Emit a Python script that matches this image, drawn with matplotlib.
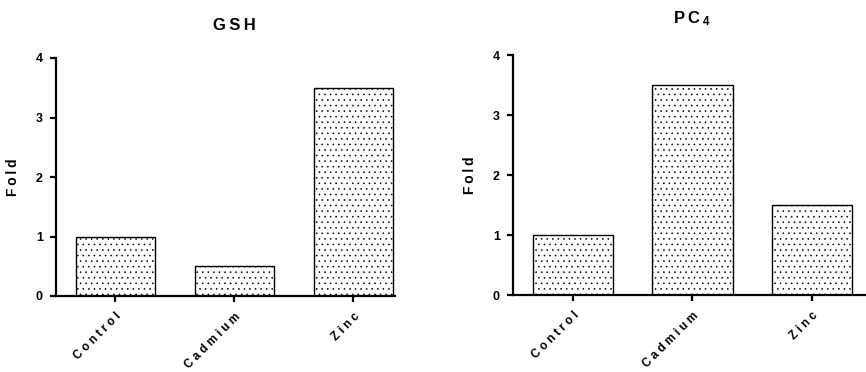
import matplotlib
matplotlib.use("Agg")
import matplotlib.pyplot as plt
from matplotlib.transforms import blended_transform_factory

plt.rcParams['font.family'] = ['Liberation Sans', 'DejaVu Sans']
plt.rcParams['font.weight'] = 'bold'
plt.rcParams['mathtext.fontset'] = 'custom'
plt.rcParams['mathtext.rm'] = 'Liberation Sans:bold'
plt.rcParams['mathtext.bf'] = 'Liberation Sans:bold'
plt.rcParams['mathtext.it'] = 'Liberation Sans:bold'
plt.rcParams['hatch.linewidth'] = 0.4
plt.rcParams['hatch.color'] = '#333333'

categories = ["Control", "Cadmium", "Zinc"]
gsh_values = [1.0, 0.5, 3.5]
pc4_values = [1.0, 3.5, 1.5]
yticks = [0, 1, 2, 3, 4]

TH = "\u2009"
def spaced(s, sep=" "):
    return sep.join(list(s))

W, H = 866, 372
fig = plt.figure(figsize=(W / 100, H / 100), dpi=100)

def px_axes(x0, y0, x1, y1):
    return fig.add_axes([x0 / W, 1 - y1 / H, (x1 - x0) / W, (y1 - y0) / H])

def style(ax, values, title, xr, title_y):
    ax.bar(range(len(categories)), values, width=0.67, color='white',
           edgecolor='black', linewidth=1.0, hatch='...')
    ax.set_xlim(-0.5, xr)
    ax.set_ylim(0, 4)
    ax.set_yticks(yticks)
    ax.set_yticklabels([str(t) for t in yticks], fontsize=9, fontweight='bold')
    ax.set_xticks(range(len(categories)))
    ax.set_xticklabels([spaced(c) for c in categories], rotation=45, ha='right',
                       rotation_mode='anchor', fontsize=8.5, fontweight='bold')
    for s in ['top', 'right']:
        ax.spines[s].set_visible(False)
    for s in ['left', 'bottom']:
        ax.spines[s].set_linewidth(1.6)
    ax.tick_params(axis='both', width=1.6, length=4.5, direction='out')
    ax.tick_params(axis='y', pad=5)
    ax.tick_params(axis='x', pad=6)
    ax.set_ylabel(spaced("Fold", TH), fontsize=10, fontweight='bold')
    bb = ax.get_position()
    ax.yaxis.set_label_coords(-36 / (bb.width * W), 0.5)
    tr = blended_transform_factory(ax.transData, fig.transFigure)
    fig.text(1, 1 - title_y / H, title, transform=tr, ha='center', va='center',
             fontsize=12, fontweight='bold')

ax1 = px_axes(56, 58, 395, 296)
style(ax1, gsh_values, spaced("GSH", TH), 2.35, 25)

ax2 = px_axes(513, 55, 866, 295)
style(ax2, pc4_values, "P" + TH + "C" + TH + r"$_4$", 2.45, 19)

fig.savefig("out.png", dpi=100)
